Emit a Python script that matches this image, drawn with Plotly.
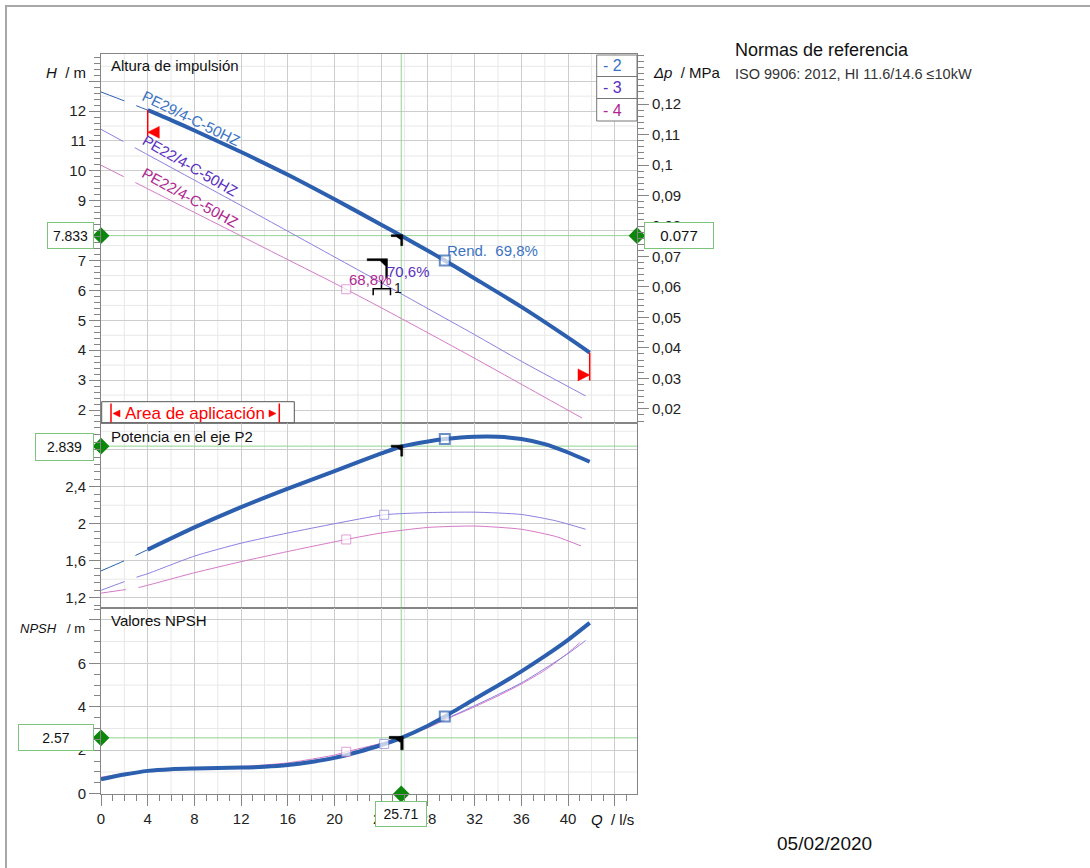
import plotly.graph_objects as go

# ---------------- data ----------------
# curve 2 : PE29/4-C-50HZ (blue), curve 3 : PE22/4-C-50HZ (violet), curve 4 : PE22/4-C-50HZ (magenta)
Q_H2 = [0, 2, 4, 6, 8, 12, 16, 20, 24, 25.71, 28, 29.44, 32, 36, 40, 41.85]
H2 = [12.64, 12.34, 12.03, 11.70, 11.35, 10.63, 9.87, 9.05, 8.20, 7.83, 7.33, 7.00, 6.40, 5.45, 4.42, 3.92]
Q_H3 = [0, 4, 8, 12, 16, 20, 24, 28, 32, 36, 41.5]
H3 = [11.39, 10.54, 9.69, 8.84, 7.98, 7.12, 6.26, 5.39, 4.52, 3.63, 2.47]
Q_H4 = [0, 4, 8, 12, 16, 20, 24, 28, 32, 36, 41.2]
H4 = [10.19, 9.40, 8.61, 7.82, 7.03, 6.24, 5.42, 4.58, 3.73, 2.86, 1.73]

Q_P2 = [0, 2, 4, 8, 12, 16, 20, 24, 25.71, 28, 29.44, 32, 34, 36, 38, 40, 41.85]
P2 = [1.49, 1.60, 1.72, 1.96, 2.18, 2.38, 2.57, 2.76, 2.835, 2.89, 2.915, 2.94, 2.94, 2.915, 2.86, 2.77, 2.67]
Q_P3 = [0, 3, 4, 8, 12, 16, 20, 24.25, 28, 32, 36, 39, 41.5]
P3 = [1.28, 1.42, 1.46, 1.65, 1.79, 1.90, 2.00, 2.097, 2.12, 2.125, 2.10, 2.03, 1.94]
Q_P4 = [0, 3.2, 4, 8, 12, 16, 21, 24, 28, 32, 36, 39, 41.1]
P4 = [1.25, 1.31, 1.335, 1.47, 1.59, 1.70, 1.83, 1.90, 1.96, 1.975, 1.94, 1.86, 1.76]

Q_N2 = [0, 2, 4, 6, 8, 10, 12, 14, 16, 18, 20, 22, 24, 25.71, 28, 29.44, 32, 34, 36, 38, 40, 41.85]
N2 = [0.66, 0.88, 1.05, 1.13, 1.16, 1.18, 1.20, 1.24, 1.32, 1.46, 1.65, 1.92, 2.24, 2.57, 3.13, 3.55, 4.36, 4.98, 5.63, 6.33, 7.08, 7.86]
Q_N3 = [0, 4, 8, 12, 16, 20, 24.25, 28, 32, 36, 40, 41.5]
N3 = [0.70, 1.07, 1.17, 1.22, 1.36, 1.70, 2.29, 3.08, 4.05, 5.10, 6.45, 7.05]
Q_N4 = [0, 4, 8, 12, 16, 20, 21, 24, 26, 28, 30, 32, 34, 36, 38, 40, 41]
N4 = [0.76, 1.08, 1.18, 1.25, 1.42, 1.78, 1.93, 2.32, 2.64, 3.04, 3.53, 4.00, 4.50, 5.05, 5.68, 6.48, 6.95]

OP_Q, OP_H, OP_DP, OP_P, OP_NPSH = 25.71, 7.833, 0.077, 2.839, 2.57
APP_Q = [4.0, 41.85]
EFF_Q = [29.44, 24.25, 21.0]
EFF_H = [7.00, 6.21, 6.04]
EFF_P = [2.915, 2.097, 1.83]
EFF_N = [3.55, 2.29, 1.93]
EFF_TEXT = ["Rend.\u00a0 69,8%", "70,6%", "68,8%"]
CURVE_NAMES = ["PE29/4-C-50HZ", "PE22/4-C-50HZ", "PE22/4-C-50HZ"]
LEGEND_TEXT = ["- 2", "- 3", "- 4"]

X_TICKS = [0, 4, 8, 12, 16, 20, 24, 28, 32, 36, 40, 44]
X_TICKTEXT = ["0", "4", "8", "12", "16", "20", "24", "28", "32", "36", "40", ""]
H_TICKS = [2, 3, 4, 5, 6, 7, 8, 9, 10, 11, 12, 13]
H_TICKTEXT = ["2", "3", "4", "5", "6", "7", "8", "9", "10", "11", "12", ""]
DP_TICKS = [0.02, 0.03, 0.04, 0.05, 0.06, 0.07, 0.08, 0.09, 0.10, 0.11, 0.12]
DP_TICKTEXT = ["0,02", "0,03", "0,04", "0,05", "0,06", "0,07", "0,08", "0,09", "0,1", "0,11", "0,12"]
P_TICKS = [1.2, 1.6, 2.0, 2.4, 2.8]
P_TICKTEXT = ["1,2", "1,6", "2", "2,4", "2,8"]
N_TICKS = [0, 2, 4, 6, 8]
N_TICKTEXT = ["0", "2", "4", "6", ""]

X_RANGE = [0, 45.9]
H_RANGE = [1.565, 13.91]
P_RANGE = [1.089, 3.089]
N_RANGE = [-0.014, 8.546]
DP_PER_M = 0.00981

# ---------------- style ----------------
FONT = "Liberation Sans, Arial, sans-serif"
BLUE = "#2c5fae"
BLUE_T = "#3a73c2"
VIOL = "#8c80e0"
VIOL_T = "#5a30c0"
MAG = "#d47ac6"
MAG_T = "#b0288f"
GREEN = "#93d293"
GDIA = "#0c870c"
GBOX = "#7cc47c"
GRID = "#cdcdcd"
GRID2 = "#e8e8e8"
AXC = "#858585"
DASH = "25px,13px,3000px,13px"

W, H = 1090, 868
L, T, R, B = 101, 54, 453, 74
PW, PH = W - L - R, H - T - B


def PX(px):
    return (px - L) / PW


def PY(py):
    return (H - B - py) / PH


def dom(top_px, bot_px):
    return [PY(bot_px), PY(top_px)]


fig = go.Figure()


def add_line(x, y, color, width, xa, ya, dash="solid", shape="spline"):
    fig.add_trace(go.Scatter(x=x, y=y, mode="lines", xaxis=xa, yaxis=ya,
                             line=dict(color=color, width=width, dash=dash, shape=shape, smoothing=0.6),
                             hoverinfo="skip", showlegend=False))


def seg(Q, V, lo, hi):
    pts = [(q, v) for q, v in zip(Q, V) if lo <= q <= hi]
    return [p[0] for p in pts], [p[1] for p in pts]


# green operating point lines
for xa, ya, val, rng in [("x", "y", OP_H, H_RANGE), ("x2", "y2", OP_P, P_RANGE), ("x3", "y3", OP_NPSH, N_RANGE)]:
    add_line(X_RANGE, [val, val], GREEN, 1, xa, ya, shape="linear")
    add_line([OP_Q, OP_Q], rng, GREEN, 1, xa, ya, shape="linear")

# ---- H panel
add_line(Q_H4, H4, MAG, 1, "x", "y", DASH)
add_line(Q_H3, H3, VIOL, 1, "x", "y", DASH)
qx, qy = seg(Q_H2, H2, 0, APP_Q[0])
add_line(qx, qy, BLUE, 1, "x", "y", DASH)
qx, qy = seg(Q_H2, H2, APP_Q[0], 99)
add_line(qx, qy, BLUE, 4, "x", "y")
# invisible trace for pressure axis
fig.add_trace(go.Scatter(x=Q_H2, y=[h * DP_PER_M for h in H2], xaxis="x", yaxis="y4", mode="lines",
                         line=dict(width=0, color="rgba(0,0,0,0)"), hoverinfo="skip", showlegend=False))

# ---- P panel
add_line(Q_P4, P4, MAG, 1, "x2", "y2", DASH)
add_line(Q_P3, P3, VIOL, 1, "x2", "y2", DASH)
qx, qy = seg(Q_P2, P2, 0, APP_Q[0])
add_line(qx, qy, BLUE, 1, "x2", "y2", DASH)
qx, qy = seg(Q_P2, P2, APP_Q[0], 99)
add_line(qx, qy, BLUE, 4, "x2", "y2")

# ---- NPSH panel
add_line(Q_N4, N4, MAG, 1, "x3", "y3")
add_line(Q_N3, N3, VIOL, 1, "x3", "y3")
add_line(Q_N2, N2, BLUE, 4, "x3", "y3")


# efficiency squares
def squares(qs, vs, cols, sizes, widths, xa, ya):
    fig.add_trace(go.Scatter(x=qs, y=vs, mode="markers", xaxis=xa, yaxis=ya,
                             marker=dict(symbol="square", size=sizes, color="white",
                                         line=dict(color=cols, width=widths)),
                             hoverinfo="skip", showlegend=False, cliponaxis=False))


squares([EFF_Q[0], EFF_Q[2]], [EFF_H[0], EFF_H[2]], [BLUE, MAG], [10, 9], [2, 1], "x", "y")
squares(EFF_Q, EFF_P, [BLUE, VIOL, MAG], [10, 9, 9], [2, 1, 1], "x2", "y2")
squares(EFF_Q, EFF_N, [BLUE, VIOL, MAG], [10, 9, 9], [2, 1, 1], "x3", "y3")

# green diamonds
for xs, ys, xa, ya in [([X_RANGE[0], X_RANGE[1]], [OP_H, OP_H], "x", "y"),
                       ([X_RANGE[0]], [OP_P], "x2", "y2"),
                       ([X_RANGE[0], OP_Q], [OP_NPSH, N_RANGE[0]], "x3", "y3")]:
    fig.add_trace(go.Scatter(x=xs, y=ys, mode="markers", xaxis=xa, yaxis=ya,
                             marker=dict(symbol="diamond", size=13, color=GDIA),
                             hoverinfo="skip", showlegend=False, cliponaxis=False))

shapes = []
ann = []

# lighter grid lines
for q in range(2, 46, 4):
    shapes.append(dict(type="line", xref="x", yref="paper", x0=q, x1=q, y0=0, y1=1,
                       line=dict(color=GRID2, width=1), layer="below"))
h = 1.5
while h < H_RANGE[1]:
    if h > H_RANGE[0]:
        shapes.append(dict(type="line", xref="x domain", yref="y", x0=0, x1=1, y0=h, y1=h,
                           line=dict(color=GRID2, width=1), layer="below"))
    h += 1
for p in [1.4, 1.8, 2.2, 2.6, 3.0]:
    shapes.append(dict(type="line", xref="x2 domain", yref="y2", x0=0, x1=1, y0=p, y1=p,
                       line=dict(color=GRID2, width=1), layer="below"))
for n in [1, 3, 5, 7]:
    shapes.append(dict(type="line", xref="x3 domain", yref="y3", x0=0, x1=1, y0=n, y1=n,
                       line=dict(color=GRID2, width=1), layer="below"))


def pix_path(xref, yref, xa, ya, path, color, fill=None, width=1.5):
    d = dict(type="path", xref=xref, yref=yref, xsizemode="pixel", ysizemode="pixel",
             xanchor=xa, yanchor=ya, path=path, line=dict(color=color, width=width if fill is None else 0.5))
    if fill:
        d["fillcolor"] = fill
    shapes.append(d)


# operating point hooks
HOOK = "M-10,1 L1.5,1 L1.5,-10 L-0.5,-10 L-0.5,-4 L-5,-1 L-10,-1 Z"
pix_path("x", "y", OP_Q, OP_H, HOOK, "black", fill="black")
pix_path("x2", "y2", OP_Q, OP_P, HOOK, "black", fill="black")
pix_path("x3", "y3", OP_Q, OP_NPSH, "M-12,1.5 L2,1.5 L2,-12 L-0.5,-12 L-0.5,-5 L-6,-1 L-12,-1 Z", "black", fill="black")

# tolerance mark near duty point 1
pix_path("x", "y", EFF_Q[1], EFF_H[1], "M-17,25.5 L3.3,25.5 L3.3,6 L1.5,6 L1.5,18 L-4,23.5 L-17,23.5 Z", "black", fill="black")
pix_path("x", "y", EFF_Q[1], EFF_H[1], "M-11,-11 L-11,-4.5 L6.3,-4.5 L6.3,-11 M-2.7,-4.5 L-2.7,3.8", "black")

# application range markers (red)
h_start = H2[Q_H2.index(APP_Q[0])]
h_end = H2[-1]
pix_path("x", "y", APP_Q[0], h_start, "M0,0 L0,-26", "red")
pix_path("x", "y", APP_Q[0], h_start, "M0,-22 L11.6,-16.3 L11.6,-28 Z", "red", fill="red")
pix_path("x", "y", APP_Q[1], h_end, "M0,0 L0,-28", "red")
pix_path("x", "y", APP_Q[1], h_end, "M0,-22.3 L-11.7,-16.3 L-11.7,-28.3 Z", "red", fill="red")

# "Area de aplicación" box
shapes.append(dict(type="rect", xref="paper", yref="paper", x0=PX(101.7), x1=PX(294.3), y0=PY(422.7), y1=PY(401.7),
                   fillcolor="white", line=dict(color="#555555", width=1), layer="above"))
for bx in [111, 279.3]:
    shapes.append(dict(type="line", xref="paper", yref="paper", x0=PX(bx), x1=PX(bx), y0=PY(422.5), y1=PY(403.5),
                       line=dict(color="red", width=1.5), layer="above"))
shapes.append(dict(type="path", xref="paper", yref="paper",
                   path=f"M{PX(113)},{PY(413.5)} L{PX(120)},{PY(410)} L{PX(120)},{PY(417)} Z",
                   fillcolor="red", line=dict(color="red", width=0.5)))
shapes.append(dict(type="path", xref="paper", yref="paper",
                   path=f"M{PX(276)},{PY(413.5)} L{PX(269)},{PY(410)} L{PX(269)},{PY(417)} Z",
                   fillcolor="red", line=dict(color="red", width=0.5)))
ann.append(dict(xref="paper", yref="paper", x=PX(194.7), y=PY(413), text="Area de aplicación", showarrow=False,
                font=dict(size=17, color="red"), xanchor="center", yanchor="middle"))

# legend box top-right of H panel
shapes.append(dict(type="rect", xref="paper", yref="paper", x0=PX(596.7), x1=PX(637), y0=PY(121), y1=PY(55),
                   fillcolor="white", line=dict(color="#777777", width=1), layer="above"))
for ly in [76.5, 98.5]:
    shapes.append(dict(type="line", xref="paper", yref="paper", x0=PX(596.7), x1=PX(637), y0=PY(ly), y1=PY(ly),
                       line=dict(color="#777777", width=1), layer="above"))
for txt, cy, col in zip(LEGEND_TEXT, [66, 88, 110], [BLUE_T, VIOL_T, MAG_T]):
    ann.append(dict(xref="paper", yref="paper", x=PX(601), y=PY(cy), text=txt, showarrow=False,
                    font=dict(size=16, color=col), xanchor="left", yanchor="middle"))

# outer frame
shapes.append(dict(type="path", xref="paper", yref="paper",
                   path=f"M{PX(6)},{PY(870)} L{PX(6)},{PY(6)} L{PX(1092)},{PY(6)}",
                   line=dict(color="#a8a8a8", width=2)))


# green value boxes
def box(text, x0, x1, y0, y1, size=14):
    ann.append(dict(xref="paper", yref="paper", x=PX((x0 + x1) / 2), y=PY((y0 + y1) / 2), text=text,
                    showarrow=False, width=x1 - x0 - 2, height=y1 - y0 - 2, bordercolor=GBOX, borderwidth=1,
                    borderpad=0, bgcolor="white", font=dict(size=size, color="#111"),
                    xanchor="center", yanchor="middle", align="center", valign="middle"))


box(f"{OP_H:.3f}", 47, 94, 222, 249)
box(f"{OP_DP:.3f}", 644, 714, 222, 249, size=15)
box(f"{OP_P:.3f}", 35, 94, 433, 461)
box(f"{OP_NPSH:.2f}", 18, 94, 724, 751)
box(f"{OP_Q:.2f}", 375, 427, 801, 827)

# curve labels
for name, q, v, ang, col in zip(CURVE_NAMES, [7.78, 7.63, 7.63], [11.76, 10.19, 9.12], [26, 30, 29],
                                [BLUE_T, VIOL_T, MAG_T]):
    ann.append(dict(xref="x", yref="y", x=q, y=v, text=name, textangle=ang, showarrow=False,
                    font=dict(size=15, color=col), xanchor="center", yanchor="middle"))

# efficiency labels
for txt, q, v, col, xs, ys in zip(EFF_TEXT, EFF_Q, EFF_H, [BLUE_T, VIOL_T, MAG_T], [0, 1, 1], [0, 2, -1]):
    ann.append(dict(xref="x", yref="y", x=q, y=v, text=txt, showarrow=False, xshift=xs, yshift=ys,
                    font=dict(size=15, color=col), xanchor="left", yanchor="bottom"))
ann.append(dict(xref="x", yref="y", x=EFF_Q[1], y=EFF_H[1], text="1", showarrow=False, xshift=14, yshift=-4,
                font=dict(size=14, color="#111"), xanchor="center", yanchor="middle"))

# panel titles and axis labels
for txt, cy in [("Altura de impulsión", 66), ("Potencia en el eje P2", 436), ("Valores NPSH", 620)]:
    ann.append(dict(xref="paper", yref="paper", x=PX(109), y=PY(cy), text=txt, showarrow=False,
                    font=dict(size=15, color="#111"), xanchor="left", yanchor="middle"))
ann.append(dict(xref="paper", yref="paper", x=PX(88), y=PY(73), text="<i>H</i>\u00a0 / m", showarrow=False,
                font=dict(size=15, color="#111"), xanchor="right", yanchor="middle"))
ann.append(dict(xref="paper", yref="paper", x=PX(651), y=PY(73), text="<i>\u0394p</i>\u00a0 / MPa", showarrow=False,
                font=dict(size=15, color="#111"), xanchor="left", yanchor="middle"))
ann.append(dict(xref="paper", yref="paper", x=PX(87), y=PY(628), text="<i>NPSH</i>\u00a0\u00a0 / m", showarrow=False,
                font=dict(size=13, color="#111"), xanchor="right", yanchor="middle"))
ann.append(dict(xref="paper", yref="paper", x=PX(636), y=PY(819), text="<i>Q</i>\u00a0 / l/s", showarrow=False,
                font=dict(size=15, color="#111"), xanchor="right", yanchor="middle"))

# right column texts
ann.append(dict(xref="paper", yref="paper", x=PX(733), y=PY(50), text="Normas de referencia", showarrow=False,
                font=dict(size=18, color="#111"), xanchor="left", yanchor="middle"))
ann.append(dict(xref="paper", yref="paper", x=PX(733), y=PY(74), text="ISO 9906: 2012, HI 11.6/14.6 \u226410kW",
                showarrow=False, font=dict(size=14.5, color="#333"), xanchor="left", yanchor="middle"))
ann.append(dict(xref="paper", yref="paper", x=PX(824), y=PY(843), text="05/02/2020", showarrow=False,
                font=dict(size=19, color="#111"), xanchor="center", yanchor="middle"))

tickfont = dict(size=15, color="#222")
common_x = dict(range=X_RANGE, showgrid=True, gridcolor=GRID, gridwidth=1, zeroline=False,
                showline=True, linecolor=AXC, linewidth=1, mirror=True, tickmode="array",
                tickvals=X_TICKS, ticktext=X_TICKTEXT)


def yax(dom_, rng, tv, tt, minor_dt):
    return dict(domain=dom_, range=rng, tickmode="array", tickvals=tv, ticktext=tt, ticks="outside",
                ticklen=11, tickcolor=AXC, tickfont=tickfont, showgrid=True, gridcolor=GRID, zeroline=False,
                showline=True, linecolor=AXC, linewidth=1, mirror=True,
                minor=dict(tickmode="linear", tick0=0, dtick=minor_dt, ticks="outside", ticklen=6,
                           tickcolor=AXC, showgrid=False))


fig.update_layout(
    width=W, height=H, margin=dict(l=L, r=R, t=T, b=B, autoexpand=False),
    paper_bgcolor="white", plot_bgcolor="white",
    font=dict(family=FONT, size=15, color="#222"),
    showlegend=False,
    xaxis=dict(**common_x, anchor="y", domain=[0, 1], showticklabels=False, ticks=""),
    xaxis2=dict(**common_x, anchor="y2", domain=[0, 1], matches="x", showticklabels=False, ticks=""),
    xaxis3=dict(**common_x, anchor="y3", domain=[0, 1], matches="x", showticklabels=True, ticks="outside",
                ticklen=11, tickcolor=AXC, tickfont=tickfont,
                minor=dict(tickmode="linear", tick0=0, dtick=1, ticks="outside", ticklen=6, tickcolor=AXC,
                           showgrid=False)),
    yaxis=dict(**yax(dom(T, 423), H_RANGE, H_TICKS, H_TICKTEXT, 0.2), anchor="x"),
    yaxis2=dict(**yax(dom(423, 608), P_RANGE, P_TICKS, P_TICKTEXT, 0.08), anchor="x2"),
    yaxis3=dict(**yax(dom(608, H - B), N_RANGE, N_TICKS, N_TICKTEXT, 0.5), anchor="x3"),
    yaxis4=dict(overlaying="y", side="right", anchor="x", range=[H_RANGE[0] * DP_PER_M, H_RANGE[1] * DP_PER_M],
                tickmode="array", tickvals=DP_TICKS, ticktext=DP_TICKTEXT, ticks="outside", ticklen=11,
                tickcolor=AXC, tickfont=tickfont, showgrid=False, zeroline=False, showline=True,
                linecolor=AXC, linewidth=1,
                minor=dict(tickmode="linear", tick0=0, dtick=0.002, ticks="outside", ticklen=6,
                           tickcolor=AXC, showgrid=False)),
    shapes=shapes,
    annotations=ann,
)

fig.write_html("out.html", config={"displayModeBar": False},
               post_script="document.body.style.margin='0';document.body.style.overflow='hidden';")
